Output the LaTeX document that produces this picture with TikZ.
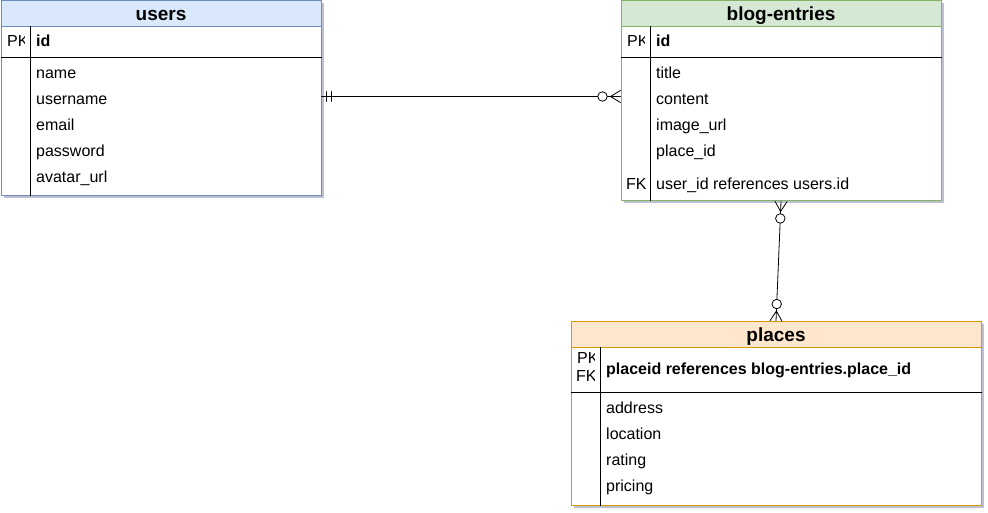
\documentclass[tikz,border=0pt]{standalone}
\usepackage{fontspec}
\setmainfont{Liberation Sans}
\usetikzlibrary{calc,shadows}
\definecolor{usersfill}{HTML}{DAE8FC}
\definecolor{usersline}{HTML}{6C8EBF}
\definecolor{blogfill}{HTML}{D5E8D4}
\definecolor{blogline}{HTML}{82B366}
\definecolor{placesfill}{HTML}{FFE6CC}
\definecolor{placesline}{HTML}{D79B00}

\begin{document}
\begin{tikzpicture}[x=1pt, y=-1pt,
    tbl/.style={rectangle, fill=white, line width=1pt, anchor=north west, inner sep=0pt,
      drop shadow={shadow xshift=2.5pt, shadow yshift=-2.5pt, opacity=0.25, fill=black!70!blue}},
    head/.style={rectangle, line width=1pt, anchor=north west, inner xsep=0pt, inner ysep=3pt,
      text height=17pt, text depth=3pt, font=\fontsize{19}{22}\selectfont\bfseries},
    field/.style={anchor=base west, inner sep=0pt, font=\fontsize{16}{19}\selectfont},
    keyfield/.style={field, font=\fontsize{16}{19}\selectfont\bfseries},
    key/.style={anchor=base west, inner sep=0pt, font=\fontsize{16}{19}\selectfont},
    rule/.style={line width=0.8pt, black},
    rel/.style={line width=0.8pt, black, line cap=round},
    ring/.style={circle, draw, fill=white, line width=0.8pt, minimum size=9.5pt, inner sep=0pt}]
  \useasboundingbox (0,0) rectangle (988,513);

  % users
  \node[tbl, draw=usersline, minimum width=320pt, minimum height=195pt] (users) at (0.5,0.5) {};
  \node[head, fill=usersfill, draw=usersline, minimum width=320pt] (usershead) at (users.north west) {users};
  \draw[rule] ($(users.north west)+(0,57)$) -- ($(users.north east)+(0,57)$);
  \draw[rule] ($(users.north west)+(30,26)$) -- ($(users.south west)+(30,0)$);
  \begin{scope}
    \clip (0,26) rectangle (24.5,57);
    \node[key] (userspk) at (7,47) {PK};
  \end{scope}
  \node[keyfield] (usersid) at (36,47) {id};
  \foreach \t [count=\i] in {name, username, email, password, avatar\_url}
    \node[field] (users-f\i) at (36, 53+26*\i) {\t};

  % blog-entries
  \node[tbl, draw=blogline, minimum width=320pt, minimum height=200pt] (blog) at (620.5,0.5) {};
  \node[head, fill=blogfill, draw=blogline, minimum width=320pt] (bloghead) at (blog.north west) {blog-entries};
  \draw[rule] ($(blog.north west)+(0,57)$) -- ($(blog.north east)+(0,57)$);
  \draw[rule] ($(blog.north west)+(30,26)$) -- ($(blog.south west)+(30,0)$);
  \begin{scope}
    \clip (620,26) rectangle (644.5,57);
    \node[key] (blogpk) at (627,47) {PK};
  \end{scope}
  \node[keyfield] (blogid) at (656,47) {id};
  \foreach \t [count=\i] in {title, content, image\_url, place\_id}
    \node[field] (blog-f\i) at (656, 53+26*\i) {\t};
  \begin{scope}
    \clip (620,170) rectangle (645.5,200);
    \node[key] (blogfk) at (626,190) {FK};
  \end{scope}
  \node[field] (blog-fk) at (656,190) {user\_id references users.id};

  % places
  \node[tbl, draw=placesline, minimum width=410pt, minimum height=184pt] (places) at (570.5,321) {};
  \node[head, fill=placesfill, draw=placesline, minimum width=410pt] (placeshead) at (places.north west) {places};
  \draw[rule] ($(places.north west)+(0,71)$) -- ($(places.north east)+(0,71)$);
  \draw[rule] ($(places.north west)+(30,26)$) -- ($(places.south west)+(30,0)$);
  \begin{scope}
    \clip (570,346) rectangle (594.5,392);
    \node[key] (placespk) at (577,363) {PK};
    \node[key] (placesfk) at (576,381) {FK};
  \end{scope}
  \node[keyfield] (placesid) at (606,374) {placeid references blog-entries.place\_id};
  \foreach \t [count=\i] in {address, location, rating, pricing}
    \node[field] (places-f\i) at (606, 387+26*\i) {\t};

  % users -- blog-entries
  \coordinate (ue) at ([yshift=2pt]users.east);
  \coordinate (bw) at (ue -| blog.west);
  \draw[rel] (ue) -- (bw);
  \draw[rel] ($(ue)+(5,-5)$) -- ($(ue)+(5,5)$);
  \draw[rel] ($(ue)+(10,-5)$) -- ($(ue)+(10,5)$);
  \draw[rel] ($(bw)+(0,-6)$) -- ($(bw)+(-10,0)$) -- ($(bw)+(0,6)$);
  \node[ring] (ring1) at ($(bw)+(-18,0)$) {};

  % blog-entries -- places
  \draw[rel] (blog.south) -- (places.north);
  \draw[rel] ($(blog.south)!6pt!90:(places.north)$) -- ($(blog.south)!10pt!(places.north)$)
    -- ($(blog.south)!6pt!-90:(places.north)$);
  \node[ring] (ring2) at ($(blog.south)!17pt!(places.north)$) {};
  \draw[rel] ($(places.north)!6pt!90:(blog.south)$) -- ($(places.north)!10pt!(blog.south)$)
    -- ($(places.north)!6pt!-90:(blog.south)$);
  \node[ring] (ring3) at ($(places.north)!17pt!(blog.south)$) {};
\end{tikzpicture}
\end{document}
